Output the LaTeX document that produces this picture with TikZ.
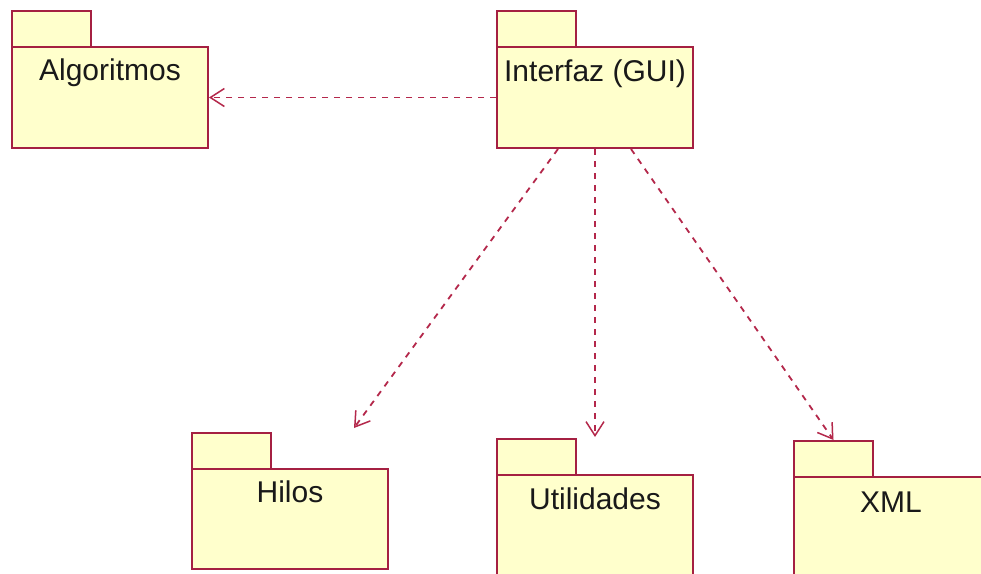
\documentclass[tikz,border=0pt]{standalone}
\usepackage{fontspec}
\setmainfont{Liberation Sans}
\usetikzlibrary{arrows.meta}
\definecolor{pkgline}{RGB}{165,32,66}
\definecolor{depline}{RGB}{180,40,75}
\definecolor{pkgfill}{RGB}{255,255,204}
\definecolor{pkgtext}{RGB}{25,25,25}
\tikzset{
  pkgbody/.style={draw=pkgline, fill=pkgfill, line width=2pt, inner sep=0pt, anchor=north west},
  pkgtab/.style={draw=pkgline, fill=pkgfill, line width=2pt, inner sep=0pt, anchor=north west, minimum width=79pt, minimum height=36pt},
  pkglabel/.style={anchor=base, inner sep=0pt, text=pkgtext, font=\fontsize{30pt}{36pt}\selectfont},
  dep/.style={draw=depline, line width=1.8pt, dash pattern=on 6pt off 6pt, -{Straight Barb[length=14pt,width=18pt,line width=1.5pt]}}
}
\begin{document}
\begin{tikzpicture}[x=1pt,y=-1pt]
\useasboundingbox[fill=white] (0,0) rectangle (981,573);
\clip (0,0) rectangle (981,573);
% Algoritmos
\node[pkgtab] (algtab) at (11,10) {};
\node[pkgbody, minimum width=196pt, minimum height=101pt] (alg) at (11,46) {};
\node[pkglabel] (algtxt) at ([yshift=-34pt]alg.north) {Algoritmos};
% Interfaz
\node[pkgtab] (guitab) at (496,10) {};
\node[pkgbody, minimum width=196pt, minimum height=101pt] (gui) at (496,46) {};
\node[pkglabel] (guitxt) at ([yshift=-35pt]gui.north) {Interfaz (GUI)};
% Hilos
\node[pkgtab] (hiltab) at (191,432) {};
\node[pkgbody, minimum width=196pt, minimum height=100pt] (hil) at (191,468) {};
\node[pkglabel] (hiltxt) at ([yshift=-34pt]hil.north) {Hilos};
% Utilidades
\node[pkgtab] (utitab) at (496,438) {};
\node[pkgbody, minimum width=196pt, minimum height=120pt] (uti) at (496,474) {};
\node[pkglabel] (utitxt) at ([yshift=-35pt]uti.north) {Utilidades};
% XML
\node[pkgtab] (xmltab) at (793,440) {};
\node[pkgbody, minimum width=196pt, minimum height=120pt] (xml) at (793,476) {};
\node[pkglabel] (xmltxt) at ([yshift=-36pt,xshift=-1pt]xml.north) {XML};
% dependencies
\draw[dep] (gui.west) -- (alg.east);
\draw[dep] ([xshift=-37pt]gui.south) -- ([xshift=64pt,yshift=40pt]hil.north);
\draw[dep] (gui.south) -- ([yshift=37pt]uti.north);
\draw[dep] ([xshift=36pt]gui.south) -- (xmltab.north);
\end{tikzpicture}
\end{document}
